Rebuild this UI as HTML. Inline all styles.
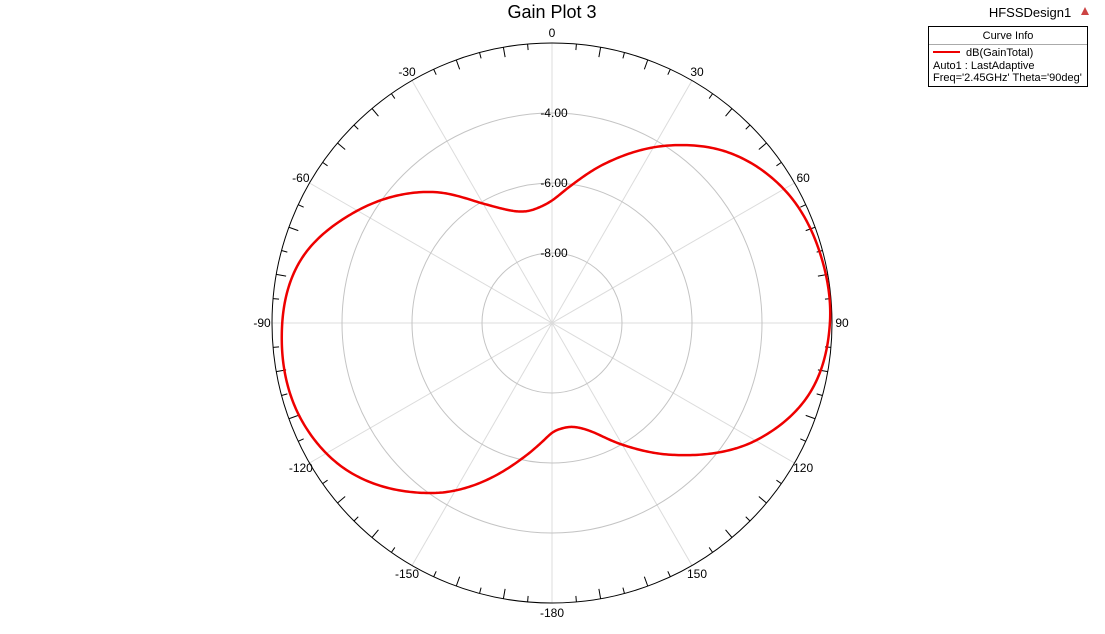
<!DOCTYPE html>
<html><head><meta charset="utf-8"><style>
body{margin:0;background:#fff;width:1105px;height:629px;overflow:hidden;font-family:"Liberation Sans",sans-serif}
</style></head><body>
<svg width="1105" height="629" xmlns="http://www.w3.org/2000/svg">
<text x="552" y="18" text-anchor="middle" font-size="18">Gain Plot 3</text>
<text x="1030" y="17" text-anchor="middle" font-size="13">HFSSDesign1</text>
<path d="M1085,7 l-4,8 h8 z" fill="#c44"/>
<g>
<rect x="928.5" y="26.5" width="159" height="60" fill="#fff" stroke="#000"/>
<line x1="929" y1="44.5" x2="1087" y2="44.5" stroke="#aaa"/>
<text x="1008" y="39" text-anchor="middle" font-size="11">Curve Info</text>
<line x1="933" y1="52" x2="960" y2="52" stroke="#e00" stroke-width="2"/>
<text x="966" y="56" font-size="11">dB(GainTotal)</text>
<text x="933" y="69" font-size="11">Auto1 : LastAdaptive</text>
<text x="933" y="81" font-size="11">Freq='2.45GHz' Theta='90deg'</text>
</g>
<g id="grid"></g>
<g id="curve"></g>
</svg>
<script>
const angles=[0,8.4,18.4,34.2,45,59.7,77.5,90,106.2,119.7,137.5,149.8,160,168.6,174,180,185.4,190.3,215,236.9,248,265.8,284.8,299,317.7,330,346.6,354];
const gains=[-6.5,-6.0,-5.2,-3.86,-3.05,-2.36,-2.07,-2.06,-2.41,-3.26,-4.89,-5.97,-6.7,-6.97,-6.98,-6.86,-6.55,-6.2,-4.07,-2.67,-2.34,-2.26,-2.63,-3.51,-4.94,-6.06,-6.72,-6.67];
const ringValues=[-8,-6,-4];
const ringLabels=["-8.00","-6.00","-4.00"];
const angleLabels=[0,30,60,90,120,150,-180,-150,-120,-90,-60,-30];
const cx=552,cy=323,R=280,vmin=-10,vmax=-2;
const ns="http://www.w3.org/2000/svg";
function rs(v){return (v-vmin)/(vmax-vmin)*R;}
function pt(a,r){const t=a*Math.PI/180;return [cx+r*Math.sin(t),cy-r*Math.cos(t)];}
function mk(tag,at,parent){const e=document.createElementNS(ns,tag);for(const k in at)e.setAttribute(k,at[k]);parent.appendChild(e);return e;}
const g=document.getElementById('grid');
for(let a=0;a<180;a+=30){const p1=pt(a,R),p2=pt(a+180,R);
 const l=mk('line',{x1:p1[0],y1:p1[1],x2:p2[0],y2:p2[1],stroke:'#dcdcdc'},g);
 
 }
for(let i=0;i<ringValues.length;i++){
 const c=mk('circle',{cx:cx,cy:cy,r:rs(ringValues[i]),fill:'none',stroke:'#c4c4c4'},g);
 
 
 const t=mk('text',{x:cx+2,y:cy-rs(ringValues[i])+4,'text-anchor':'middle','font-size':12},g);t.textContent=ringLabels[i];
 
 
}
const oc=mk('circle',{cx:cx,cy:cy,r:R,fill:'none',stroke:'#000'},g);


for(let a=0;a<360;a+=5){const len=a%30==0?0:(a%10==0?10:6);if(!len)continue;const p1=pt(a,R),p2=pt(a,R-len);
 mk('line',{x1:p1[0],y1:p1[1],x2:p2[0],y2:p2[1],stroke:'#000'},g);}
angleLabels.forEach(a=>{const p=pt(a,R+10);const t=mk('text',{x:p[0],y:p[1]+4,'text-anchor':'middle','font-size':12},g);t.textContent=a;
 
 });
const n=angles.length;
function A(i){const k=((i%n)+n)%n;return angles[k]+360*Math.floor(i/n);}
function G(i){return gains[((i%n)+n)%n];}
function tang(i){const h0=A(i)-A(i-1),h1=A(i+1)-A(i);const s0=(G(i)-G(i-1))/h0,s1=(G(i+1)-G(i))/h1;return (s1*h0+s0*h1)/(h0+h1);}
let d='';
for(let i=0;i<n;i++){
 const a0=A(i),a1=A(i+1),g0=G(i),g1=G(i+1),m0=tang(i),m1=tang(i+1),h=a1-a0;
 for(let a=a0;a<a1;a+=0.5){const t=(a-a0)/h,t2=t*t,t3=t2*t;
  const v=(2*t3-3*t2+1)*g0+(t3-2*t2+t)*h*m0+(-2*t3+3*t2)*g1+(t3-t2)*h*m1;
  const p=pt(a,rs(v));d+=(d?'L':'M')+p[0].toFixed(2)+','+p[1].toFixed(2);}
}
const c=mk('path',{d:d+'Z',fill:'none',stroke:'#e00',"stroke-width":2.5,"stroke-linejoin":"round"},document.getElementById('curve'));


</script>
</body></html>
